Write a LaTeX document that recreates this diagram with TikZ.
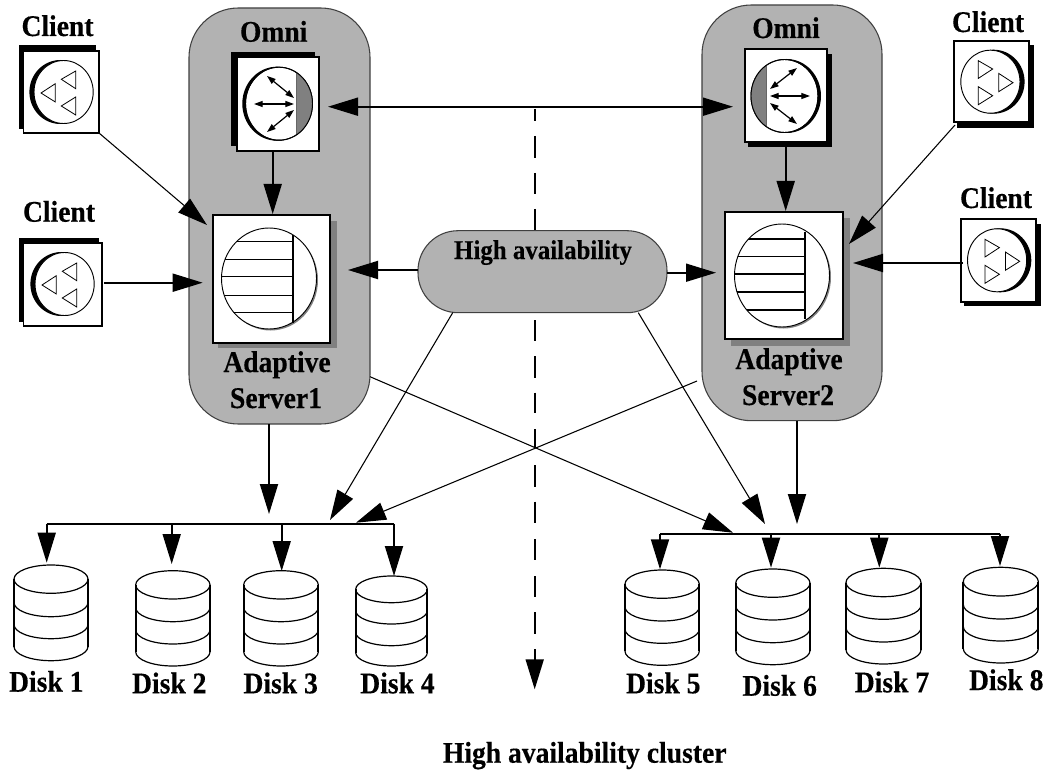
\documentclass[tikz,border=0pt]{standalone}
\usepackage{fontspec}
\setmainfont{Liberation Serif}[FakeStretch=0.92,BoldFeatures={FakeBold=0.35}]
\usetikzlibrary{arrows.meta}
\definecolor{panelgray}{HTML}{B2B2B2}
\definecolor{shadegray}{HTML}{808080}
\tikzset{
  x=.75pt,y=-.75pt,
  bigtip/.style={},
  bigarrow/.style={line width=1.4pt,-{Stealth[length=22.5pt,width=13.5pt,inset=0pt]}},
  thinarrow/.style={line width=.8pt,-{Stealth[length=22.5pt,width=13.5pt,inset=0pt]}},
  smallarrow/.style={line width=.9pt,{Stealth[length=6.5pt,width=4.5pt,inset=0pt]}-{Stealth[length=6.5pt,width=4.5pt,inset=0pt]}},
  busline/.style={line width=1.4pt},
  whitebox/.style={draw=black,fill=white,line width=1.4pt,inner sep=0pt,outer sep=0pt},
  panel/.style={draw=black!75,fill=panelgray,line width=.8pt,inner sep=0pt,outer sep=0pt,rounded corners=37pt},
  capsule/.style={draw=black!75,fill=panelgray,line width=.8pt,inner sep=0pt,outer sep=0pt,rounded corners=30pt},
  shadowblack/.style={fill=black,inner sep=0pt,outer sep=0pt},
  shadowgray/.style={fill=shadegray,inner sep=0pt,outer sep=0pt},
  label/.style={inner sep=0pt,outer sep=0pt,anchor=base,font=\fontsize{22.5pt}{24pt}\selectfont\bfseries},
  smalllabel/.style={label,font=\fontsize{20.3pt}{22pt}\selectfont\bfseries},
  diskline/.style={draw=black,line width=.9pt},
  diskside/.style={draw=black,line width=1.5pt},
}
% name, x1, y1, x2, y2, style
\newcommand{\pxbox}[6]{\node[#6,minimum width={(#4-#2)*.75pt},minimum height={(#5-#3)*.75pt}] (#1) at ({(#2+#4)/2},{(#3+#5)/2}) {};}
% cx, cy, rx, ry, sign (-1 triangles point left)
\newcommand{\clienticon}[5]{
  \fill[black] ({#1+#5*1.6},#2) ellipse [x radius=#3,y radius=#4];
  \filldraw[fill=white,draw=black,line width=.7pt] ({#1-#5*1.6},#2) ellipse [x radius=#3-1.4,y radius=#4-.5];
  \begin{scope}[shift={(#1,#2)}]
  \draw[line width=.6pt] ({#5*21},1)--({#5*6.7},-8.3)--({#5*6.7},10)--cycle;
  \draw[line width=.6pt] ({#5*.7},-12.7)--({#5*(-13.7)},-21)--({#5*(-13.7)},-3.3)--cycle;
  \draw[line width=.6pt] ({#5*.7},14)--({#5*(-13.7)},5)--({#5*(-13.7)},23)--cycle;
  \end{scope}
}
% cx, cy, rx, ry, vertical x, top of vertical, bottom of vertical
\newcommand{\servericon}[7]{
  \fill[shadegray] ({#1+1.5},{#2+1.5}) ellipse [x radius=#3,y radius=#4];
  \filldraw[fill=white,draw=black,line width=.7pt] (#1,#2) ellipse [x radius=#3,y radius=#4];
  \draw[line width=1.2pt] (#5,#6)--(#5,#7);
}
\newcommand{\serverlines}[9]{
  \begin{scope}
  \clip (#1,#2) ellipse [x radius=#3,y radius=#4];
  \foreach \yy in {#6,#7,#8,#9} {\draw[line width=.9pt] ({#1-#3},\yy)--(#5,\yy);}
  \end{scope}
}
% name, x1, x2, top, ellipse bottom, mid1, mid2, bottom
\newcommand{\diskicon}[8]{
  \pgfmathsetmacro{\cxx}{(#2+#3)/2}
  \pgfmathsetmacro{\rxx}{(#3-#2)/2}
  \pgfmathsetmacro{\ryy}{(#5-#4)/2}
  \pgfmathsetmacro{\cyy}{(#4+#5)/2}
  \pgfmathsetmacro{\boty}{#8-\ryy}
  \pgfmathsetmacro{\mida}{#6-\ryy}
  \pgfmathsetmacro{\midb}{#7-\ryy}
  \fill[white] (#2,\cyy) rectangle (#3,\boty);
  \fill[white] (\cxx,\boty) ellipse [x radius=\rxx,y radius=\ryy];
  \draw[diskline,fill=white] (\cxx,\cyy) ellipse [x radius=\rxx,y radius=\ryy];
  \draw[diskline] (#2,\mida) arc [start angle=180,end angle=360,x radius=\rxx,y radius=-\ryy];
  \draw[diskline] (#2,\midb) arc [start angle=180,end angle=360,x radius=\rxx,y radius=-\ryy];
  \draw[diskline] (#2,\boty) arc [start angle=180,end angle=360,x radius=\rxx,y radius=-\ryy];
  \draw[diskside] (#2,\cyy)--(#2,\boty) (#3,\cyy)--(#3,\boty);
  \coordinate (#1) at (\cxx,#4);
}
\begin{document}
\begin{tikzpicture}
\useasboundingbox (0,0) rectangle (1050,770);
\fill[white] (0,0) rectangle (1050,770);

% centre dashed axis
\coordinate (axisEnd) at (534.7,689.3);
\foreach \ya/\yb in {109/121,136/158,173/194,209/231,320/340.7,356/378,392.7/413,429/448,465/486.7,501.7/523,539/560,576/597,612/634}
  {\draw[line width=1.5pt] (534.7,\ya)--(534.7,\yb);}
\draw[bigarrow] (534.7,649)--(axisEnd);

% panels
\pxbox{panelL}{189}{8}{370}{424}{panel}
\pxbox{panelR}{702}{5}{882}{420.7}{panel}

% clients
\pxbox{shC1}{19}{45}{96}{129}{shadowblack}
\pxbox{c1}{23.5}{51}{99}{133}{whitebox}
\clienticon{62}{92}{31}{32}{-1}
\pxbox{shC2}{19}{238}{99}{322}{shadowblack}
\pxbox{c2}{23.5}{243}{102}{326}{whitebox}
\clienticon{63}{284}{31}{32}{-1}
\pxbox{shC3}{957}{45}{1034}{128}{shadowblack}
\pxbox{c3}{954}{40.7}{1029}{122}{whitebox}
\clienticon{992}{81.7}{31}{32}{1}
\pxbox{shC4}{964}{224}{1041}{306}{shadowblack}
\pxbox{c4}{960.7}{219}{1036}{301.7}{whitebox}
\clienticon{998.7}{260.3}{31}{32}{1}

% Omni left
\pxbox{shO1}{231}{52}{315}{146}{shadowblack}
\pxbox{o1}{237}{57}{319}{151}{whitebox}
\fill[black] (277,103.7) ellipse [x radius=34.7,y radius=37];
\filldraw[fill=white,draw=black,line width=.7pt] (279,103.7) ellipse [x radius=33.5,y radius=36.5];
\begin{scope}
\clip (279,103.7) ellipse [x radius=33.5,y radius=36.5];
\fill[shadegray] (296.7,60) rectangle (320,150);
\draw[line width=.5pt,draw=black!60] (296.7,60)--(296.7,150);
\end{scope}
\draw[line width=.7pt] (279,103.7) ellipse [x radius=33.5,y radius=36.5];
\draw[smallarrow] (254,104)--(294,104);
\draw[smallarrow] (267,76)--(294,98);
\draw[smallarrow] (267,132)--(294,110);

% Omni right
\pxbox{shO2}{748}{54}{832}{147}{shadowblack}
\pxbox{o2}{745}{49}{827}{142}{whitebox}
\fill[black] (786.5,96) ellipse [x radius=34.5,y radius=37];
\filldraw[fill=white,draw=black,line width=.7pt] (784.5,96) ellipse [x radius=33.5,y radius=36.5];
\begin{scope}
\clip (784.5,96) ellipse [x radius=33.5,y radius=36.5];
\fill[shadegray] (745,50) rectangle (766.7,140);
\draw[line width=.5pt,draw=black!60] (766.7,50)--(766.7,140);
\end{scope}
\draw[line width=.7pt] (784.5,96) ellipse [x radius=33.5,y radius=36.5];
\draw[smallarrow] (770,96)--(810,96);
\draw[smallarrow] (770,89)--(797,68);
\draw[smallarrow] (770,103)--(797,124);

% Adaptive servers
\pxbox{shS1}{218}{221}{337}{348}{shadowgray}
\pxbox{s1}{213}{215}{330}{343}{whitebox}
\servericon{269}{278.5}{47.5}{50.5}{292.7}{234.7}{323}
\serverlines{269}{278.5}{47.5}{50.5}{292.7}{241.7}{259.3}{276.7}{295.7}
\serverlines{269}{278.5}{47.5}{50.5}{292.7}{312.7}{312.7}{312.7}{312.7}
\pxbox{shS2}{731}{218}{850}{345.7}{shadowgray}
\pxbox{s2}{725}{211.7}{843}{339}{whitebox}
\servericon{782}{275.5}{47.5}{51.5}{805}{231.7}{319}
\serverlines{782}{275.5}{47.5}{51.5}{805}{239}{256.7}{274}{292}
\serverlines{782}{275.5}{47.5}{51.5}{805}{310}{310}{310}{310}

% capsule
\pxbox{ha}{418}{230.7}{667}{312.7}{capsule}

% disks
\diskicon{d1}{14}{88}{565}{593.3}{616.7}{638.7}{660.7}
\diskicon{d2}{135.7}{210}{570.7}{599}{621.7}{644}{666}
\diskicon{d3}{243.7}{318.3}{570.7}{599}{621.7}{644}{666}
\diskicon{d4}{355.7}{427.3}{576}{602.7}{624}{645.7}{666}
\diskicon{d5}{625}{699.3}{570}{598.3}{621}{643.3}{665.3}
\diskicon{d6}{735.7}{810}{569}{597.3}{620}{642.7}{664.7}
\diskicon{d7}{846}{921}{568.3}{596.7}{619.3}{642}{664}
\diskicon{d8}{963.3}{1038.3}{567.3}{596}{619}{641}{663}

% buses
\coordinate (busL1) at (46.7,523.7);
\coordinate (busL2) at (394,523.7);
\coordinate (busR1) at (660,533.7);
\coordinate (busR2) at (1000,533.7);
\coordinate (tapL2) at (171.7,523.7);
\coordinate (tapL3) at (281.7,523.7);
\coordinate (tapR2) at (771,533.7);
\coordinate (tapR3) at (879.3,533.7);
\coordinate (tipd1) at (46.7,562.7);
\coordinate (tipd2) at (171.7,564);
\coordinate (tipd3) at (281.7,571);
\coordinate (tipd4) at (394,576);
\coordinate (tipd5) at (660,569.3);
\coordinate (tipd6) at (771,567.7);
\coordinate (tipd7) at (879.3,567.7);
\coordinate (tipd8) at (1000,566);
\draw[busline] (busL1)--(busL2);
\draw[busline] (busR1)--(busR2);
\draw[bigarrow] (busL1)--(tipd1);
\draw[bigarrow] (tapL2)--(tipd2);
\draw[bigarrow] (tapL3)--(tipd3);
\draw[bigarrow] (busL2)--(tipd4);
\draw[bigarrow] (busR1)--(tipd5);
\draw[bigarrow] (tapR2)--(tipd6);
\draw[bigarrow] (tapR3)--(tipd7);
\draw[bigarrow] (busR2)--(tipd8);

% arrow targets
\coordinate (t1) at (207,225);
\coordinate (t2) at (202.7,282.7);
\coordinate (t3) at (849,244);
\coordinate (t4) at (853,263);
\coordinate (t5) at (328,106.7);
\coordinate (t6) at (733,106.7);
\coordinate (t7) at (348,270);
\coordinate (t8) at (716,272.7);
\coordinate (t9) at (330,520);
\coordinate (t10) at (765,524);
\coordinate (t11) at (733,532.7);
\coordinate (t12) at (356,522.7);
\coordinate (t13) at (269,514);
\coordinate (t14) at (797,524);
\coordinate (t15) at (272.7,214);
\coordinate (t16) at (785.7,211);
\coordinate (f11) at (370,376.7);
\coordinate (f12) at (697,381);
\coordinate (f2) at (104,282.7);
\coordinate (f3) at (955,125);
\coordinate (f4) at (963,263);
\coordinate (f9) at (452.7,312.7);
\coordinate (f10) at (638.3,312.7);

% connectors
\draw[thinarrow] (c1.south east)--(t1);
\draw[bigarrow] (f2)--(t2);
\draw[thinarrow] (f3)--(t3);
\draw[bigarrow] (f4)--(t4);
\draw[line width=1.4pt,{Stealth[length=22.5pt,width=13.5pt,inset=0pt]}-{Stealth[length=22.5pt,width=13.5pt,inset=0pt]}] (t5)--(t6);
\draw[bigarrow] (o1.south -| t15)--(t15);
\draw[bigarrow] (o2.south -| t16)--(t16);
\draw[bigarrow] (ha.west |- t7)--(t7);
\draw[bigarrow] (ha.east |- t8)--(t8);
\draw[thinarrow] (f9)--(t9);
\draw[thinarrow] (f10)--(t10);
\draw[thinarrow] (f11)--(t11);
\draw[thinarrow] (f12)--(t12);
\draw[bigarrow] (panelL.south -| t13)--(t13);
\draw[bigarrow] (panelR.south -| t14)--(t14);

% labels
\node[label] (lc1) at (57.5,36) {Client};
\node[label] (lc2) at (59,221.7) {Client};
\node[label] (lc3) at (988,32) {Client};
\node[label] (lc4) at (996,208) {Client};
\node[label] (lo1) at (273.7,41.7) {Omni};
\node[label] (lo2) at (786,38) {Omni};
\node[label] (la1) at (277,372) {Adaptive};
\node[label] (ls1) at (276,408) {Server1};
\node[label] (la2) at (789,369) {Adaptive};
\node[label] (ls2) at (788,405) {Server2};
\node[smalllabel] (lha) at (543,259) {High availability};
\node[label] (ld1) at (46.3,691.7) {Disk 1};
\node[label] (ld2) at (169.3,693.3) {Disk 2};
\node[label] (ld3) at (280.7,693.3) {Disk 3};
\node[label] (ld4) at (397.5,693.3) {Disk 4};
\node[label] (ld5) at (663.3,693.3) {Disk 5};
\node[label] (ld6) at (779.7,695.7) {Disk 6};
\node[label] (ld7) at (892,692.3) {Disk 7};
\node[label] (ld8) at (1006.3,690) {Disk 8};
\node[label] (lcl) at (584.7,762.7) {High availability cluster};
\end{tikzpicture}
\end{document}
